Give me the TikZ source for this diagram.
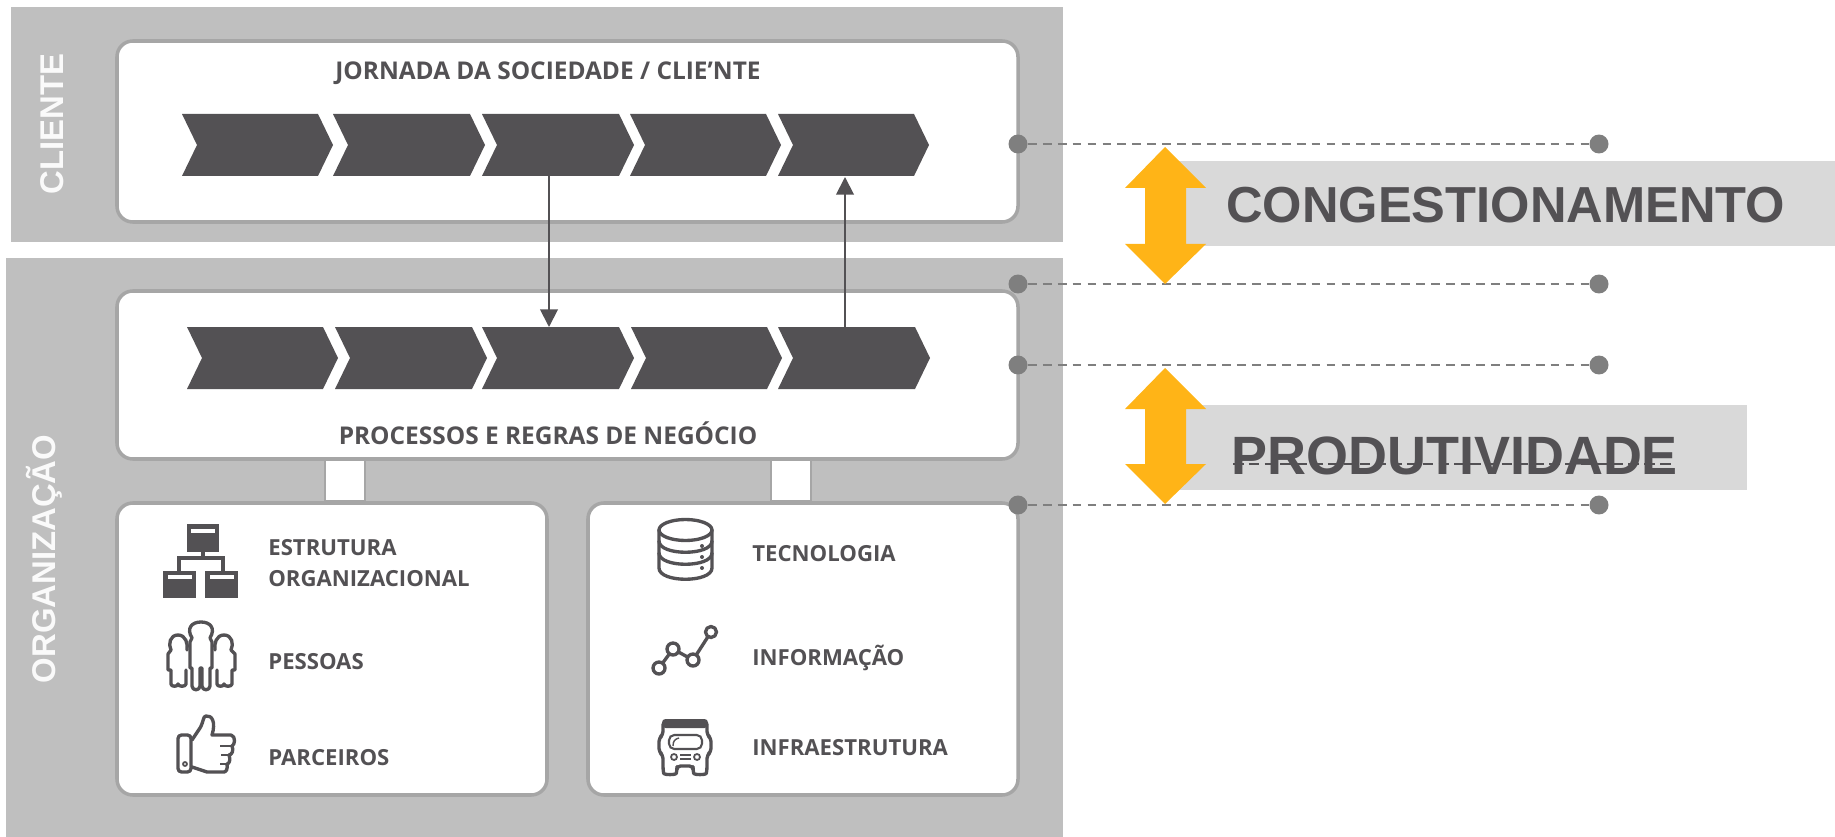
\documentclass[tikz,border=0pt]{standalone}
\usepackage{fontspec}
\setmainfont{Open Sans}
\newfontfamily\headfont{Liberation Sans}
\usetikzlibrary{arrows, arrows.meta}
\definecolor{panelgrey}{HTML}{BFBFBF}
\definecolor{edgegrey}{HTML}{A6A6A6}
\definecolor{bargrey}{HTML}{D9D9D9}
\definecolor{dotgrey}{HTML}{7F7F7F}
\definecolor{darkgrey}{HTML}{535154}
\definecolor{amber}{HTML}{FFB417}
\tikzset{
  panel/.style={fill=panelgrey},
  whitebox/.style={draw=edgegrey, line width=2pt, fill=white, rounded corners=9pt},
  linkbox/.style={draw=edgegrey, line width=1.5pt, fill=white},
  chevron/.style={fill=darkgrey},
  flowarrow/.style={draw=darkgrey, line width=1.1pt, -{Triangle[length=10pt,width=10pt]}},
  enddot/.style={circle, fill=dotgrey, minimum size=10.8pt, inner sep=0pt},
  dashline/.style={draw=dotgrey, line width=1.4pt, dash pattern=on 5pt off 3.5pt},
  bigbar/.style={fill=bargrey},
  bigarrow/.style={fill=amber},
  title/.style={text=darkgrey, inner sep=0pt, font=\fontsize{13.9}{16}\selectfont\bfseries},
  item/.style={text=darkgrey, inner sep=0pt, font=\fontsize{12.6}{15}\selectfont\bfseries, anchor=base west},
  side/.style={text=white!92!panelgrey, font=\headfont\fontsize{18.7}{22}\selectfont\bfseries, rotate=90},
  big/.style={text=darkgrey, inner sep=0pt, anchor=base west},
  iconline/.style={draw=darkgrey, line width=1.9pt, line join=round, line cap=round},
  iconfill/.style={fill=darkgrey},
  iconcut/.style={fill=white}
}
\begin{document}
\begin{tikzpicture}[x=0.2mm, y=-0.2mm]
\useasboundingbox (0,0) rectangle (1835,837);
\fill[panel] (11,7) rectangle (1063,242);
\fill[panel] (6,258) rectangle (1063,837);
\draw[linkbox] (325,455) rectangle (365,501);
\draw[linkbox] (771,455) rectangle (811,501);
\draw[whitebox] (117,41) rectangle (1018,222);
\draw[whitebox] (117,291) rectangle (1018,459);
\draw[whitebox] (117,503) rectangle (547,795);
\draw[whitebox] (588,503) rectangle (1018,795);
\node[side] (cliente) at (52,124) {CLIENTE};
\node[side] (organizacao) at (44,559) {ORGANIZAÇÃO};
\node[title, anchor=base] (jornada) at (548,80) {JORNADA DA SOCIEDADE / CLIE’NTE};
\node[title, anchor=base] (processos) at (548,444) {PROCESSOS E REGRAS DE NEGÓCIO};
\fill[chevron] (182,114) -- ++(136,0) -- ++(15,31) -- ++(-15,31) -- ++(-136,0) -- ++(15,-31) -- cycle;
\fill[chevron] (333,114) -- ++(137,0) -- ++(15,31) -- ++(-15,31) -- ++(-137,0) -- ++(15,-31) -- cycle;
\fill[chevron] (482,114) -- ++(137,0) -- ++(15,31) -- ++(-15,31) -- ++(-137,0) -- ++(15,-31) -- cycle;
\fill[chevron] (630,114) -- ++(136,0) -- ++(15,31) -- ++(-15,31) -- ++(-136,0) -- ++(15,-31) -- cycle;
\fill[chevron] (778,114) -- ++(136,0) -- ++(15,31) -- ++(-15,31) -- ++(-136,0) -- ++(15,-31) -- cycle;
\fill[chevron] (187,327) -- ++(136,0) -- ++(15,31) -- ++(-15,31) -- ++(-136,0) -- ++(15,-31) -- cycle;
\fill[chevron] (335,327) -- ++(137,0) -- ++(15,31) -- ++(-15,31) -- ++(-137,0) -- ++(15,-31) -- cycle;
\fill[chevron] (482,327) -- ++(137,0) -- ++(15,31) -- ++(-15,31) -- ++(-137,0) -- ++(15,-31) -- cycle;
\fill[chevron] (631,327) -- ++(136,0) -- ++(15,31) -- ++(-15,31) -- ++(-136,0) -- ++(15,-31) -- cycle;
\fill[chevron] (778,327) -- ++(137,0) -- ++(15,31) -- ++(-15,31) -- ++(-137,0) -- ++(15,-31) -- cycle;
\coordinate (jornadathree) at (549,176);
\coordinate (processthree) at (549,327);
\coordinate (jornadafive) at (845,177);
\coordinate (processfive) at (845,327);
\draw[flowarrow] (jornadathree) -- (processthree);
\draw[flowarrow] (processfive) -- (jornadafive);
\fill[bigbar] (1165,161) rectangle (1835,246);
\fill[bigbar] (1165,405) rectangle (1747,490);
\node[enddot] (dotaleft) at (1018,144) {};
\node[enddot] (dotaright) at (1599,144) {};
\node[enddot] (dotbleft) at (1018,284) {};
\node[enddot] (dotbright) at (1599,284) {};
\node[enddot] (dotcleft) at (1018,365) {};
\node[enddot] (dotcright) at (1599,365) {};
\node[enddot] (dotdleft) at (1018,505) {};
\node[enddot] (dotdright) at (1599,505) {};
\draw[dashline] (dotaleft) -- (dotaright);
\draw[dashline] (dotbleft) -- (dotbright);
\draw[dashline] (dotcleft) -- (dotcright);
\draw[dashline] (dotdleft) -- (dotdright);
\fill[bigarrow] (1165,147) -- (1206,188) -- (1186,188) -- (1186,244) -- (1206,244) -- (1165,284) -- (1125,244) -- (1145,244) -- (1145,188) -- (1125,188) -- cycle;
\fill[bigarrow] (1165,368) -- (1206,409) -- (1186,409) -- (1186,464) -- (1206,464) -- (1165,504) -- (1125,464) -- (1145,464) -- (1145,409) -- (1125,409) -- cycle;
\node[big, font=\headfont\fontsize{28.8}{34}\selectfont\bfseries] (congestionamento) at (1226,223) {CONGESTIONAMENTO};
\node[big, font=\headfont\fontsize{30.7}{36}\selectfont\bfseries] (produtividade) at (1231,474) {PRODUTIVIDADE};
\coordinate (strikeleft) at (1233,464);
\coordinate (strikeright) at (1674,464);
\draw[draw=darkgrey, line width=1.2pt, dash pattern=on 6pt off 3pt] (strikeleft) -- (strikeright);
\node[item] (estrutura) at (268,555) {ESTRUTURA};
\node[item] (organizacional) at (268,586) {ORGANIZACIONAL};
\node[item] (pessoas) at (268,669) {PESSOAS};
\node[item] (parceiros) at (268,765) {PARCEIROS};
\node[item] (tecnologia) at (752,561) {TECNOLOGIA};
\node[item] (informacao) at (752,665) {INFORMAÇÃO};
\node[item] (infraestrutura) at (752,755) {INFRAESTRUTURA};
\fill[iconfill] (187,524) rectangle (219,552);
\fill[iconfill] (163,571) rectangle (196,598);
\fill[iconfill] (205,571) rectangle (238,598);
\fill[iconcut] (191,529) rectangle (215,533);
\fill[iconcut] (168,575) rectangle (192,579);
\fill[iconcut] (210,575) rectangle (234,579);
\draw[darkgrey, line width=2.6pt] (203,552) -- (203,558);
\draw[darkgrey, line width=2.2pt] (179,571) -- (179,558) -- (223,558) -- (223,571);
\draw[iconline] (192,638) .. controls (186,628) and (192,622) .. (201,622) .. controls (210,622) and (216,628) .. (210,638) -- (212,642) -- (212,668) -- (210,668) -- (210,686) .. controls (210,691) and (202,691) .. (202,686) -- (202,668) -- (200,668) -- (200,686) .. controls (200,691) and (192,691) .. (192,686) -- (192,668) -- (190,668) -- (190,642) -- cycle;
\draw[iconline] (187,650) .. controls (188,644) and (186,635) .. (178,635) .. controls (170,635) and (168,644) .. (171,650) -- (168,654) -- (168,670) -- (171,670) -- (171,684) .. controls (171,687) and (178,687) .. (178,684) .. controls (178,687) and (186,687) .. (186,684) -- (186,670);
\draw[iconline] (215,650) .. controls (214,644) and (216,635) .. (224,635) .. controls (232,635) and (234,644) .. (231,650) -- (235,654) -- (235,670) -- (232,670) -- (232,684) .. controls (232,687) and (224,687) .. (224,684) .. controls (224,687) and (217,687) .. (217,684) -- (217,670);
\draw[iconline, rounded corners=2pt] (178,735) -- (191,735) -- (191,772) -- (178,772) -- cycle;
\draw[iconline] (192,740) -- (200,728) .. controls (204,721) and (203,716) .. (206,716) .. controls (212,715) and (216,722) .. (212,735) -- (231,735) .. controls (236,736) and (235,745) .. (232,746) .. controls (234,750) and (232,755) .. (229,755) .. controls (231,760) and (229,764) .. (227,764) .. controls (228,769) and (226,772) .. (224,772) -- (207,772) -- (192,767);
\draw[darkgrey, line width=1.2pt] (220,746) -- (232,746);
\draw[darkgrey, line width=1.2pt] (221,755) -- (229,755);
\draw[darkgrey, line width=1.2pt] (220,764) -- (227,764);
\draw[darkgrey, line width=1pt] (185,764) circle (2);
\draw[iconline] (659,530) -- (659,568) .. controls (659,583) and (712,583) .. (712,568) -- (712,530);
\draw[iconline] (685.5,530) ellipse (26.5 and 10.5);
\draw[iconline] (659,541) .. controls (659,556) and (712,556) .. (712,541);
\draw[iconline] (659,553) .. controls (659,568) and (712,568) .. (712,553);
\fill[iconfill] (702,546) circle (2);
\fill[iconfill] (702,557) circle (2);
\fill[iconfill] (702,568) circle (2);
\draw[iconline] (659,668) -- (673,649) -- (693,660) -- (711,632);
\draw[iconline, fill=white] (659,668) circle (6);
\draw[iconline, fill=white] (673,649) circle (6);
\draw[iconline, fill=white] (693,660) circle (6);
\draw[iconline, fill=white] (711,632) circle (5.5);
\fill[iconfill, rounded corners=2pt] (662,719) rectangle (708,728);
\draw[iconline, rounded corners=2pt] (663,724) -- (663,735) -- (659,738) -- (659,752) -- (663,755) -- (663,770) .. controls (664,775) and (676,775) .. (677,770) -- (677,766) -- (693,766) -- (693,770) .. controls (694,775) and (706,775) .. (707,770) -- (707,755) -- (711,752) -- (711,738) -- (707,735) -- (707,724);
\draw[draw=darkgrey, line width=1.2pt, rounded corners=3pt] (669,735) rectangle (702,749);
\draw[draw=darkgrey, line width=0.8pt] (673,746) .. controls (673,741) and (675,739) .. (679,738);
\draw[draw=darkgrey, line width=1pt] (674,757) circle (3);
\draw[draw=darkgrey, line width=1pt] (697,757) circle (3);
\draw[draw=darkgrey, line width=1pt] (680,755) -- (691,755);
\draw[draw=darkgrey, line width=1pt] (680,759) -- (691,759);
\end{tikzpicture}
\end{document}
